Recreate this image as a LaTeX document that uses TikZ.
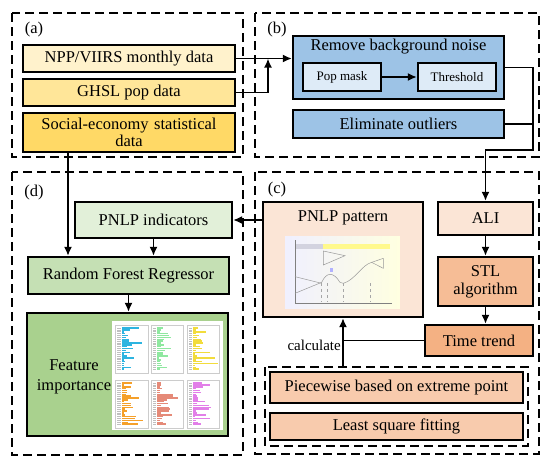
\documentclass[tikz,border=0pt]{standalone}
\usepackage{fontspec}
\setmainfont{Liberation Serif}
\usetikzlibrary{positioning, arrows.meta, calc}

\definecolor{nppfill}{HTML}{FFF2CC}
\definecolor{ghslfill}{HTML}{FFE699}
\definecolor{socfill}{HTML}{FFD966}
\definecolor{noisefill}{HTML}{9DC3E6}
\definecolor{maskfill}{HTML}{DEEBF7}
\definecolor{peachfill}{HTML}{FBE5D6}
\definecolor{orangefill}{HTML}{F4B183}
\definecolor{fitfill}{HTML}{F8CBAD}
\definecolor{indfill}{HTML}{E2F0D9}
\definecolor{rffill}{HTML}{C5E0B4}
\definecolor{fifill}{HTML}{A9D18E}
\definecolor{barcyan}{HTML}{2DB4E0}
\definecolor{bargreen}{HTML}{8FE8A0}
\definecolor{baryellow}{HTML}{F2DC3C}
\definecolor{barorange}{HTML}{F5A02A}
\definecolor{barred}{HTML}{E58A78}
\definecolor{barviolet}{HTML}{E27FE8}

\begin{document}
\begin{tikzpicture}[
  x=1pt, y=-1pt,
  font=\fontsize{16.5}{19}\selectfont,
  >={Latex[length=9pt,width=8pt]},
  box/.style={draw, line width=2.2pt, align=center, inner sep=1pt},
  small/.style={font=\fontsize{13}{15}\selectfont},
  panel/.style={draw, line width=2pt, dash pattern=on 9pt off 5pt},
  link/.style={->, line width=1.8pt},
  wire/.style={line width=1.8pt}
]
  \useasboundingbox (0,0) rectangle (550,467);

  % dashed panels
  \draw[panel] (12,13) rectangle (243,157);
  \draw[panel] (255,13) rectangle (539,157);
  \draw[panel] (12,172) rectangle (243,455);
  \draw[panel] (255,172) rectangle (539,454);
  \draw[panel] (265,367) rectangle (528,446);

  \node (taga) at (34,30) {(a)};
  \node (tagb) at (277,30) {(b)};
  \node (tagc) at (277,190) {(c)};
  \node (tagd) at (34,193) {(d)};

  % (a) input data
  \node[box, fill=nppfill, minimum width=212pt, minimum height=27pt] (npp) at (129,58.5) {NPP/VIIRS monthly data};
  \node[box, fill=ghslfill, minimum width=212pt, minimum height=27pt] (ghsl) at (129,92.5) {GHSL pop data};
  \node[box, fill=socfill, minimum width=212pt, minimum height=39pt, text width=205pt, font=\fontsize{16.5}{17}\selectfont] (social) at (129,132.5) {Social-economy statistical\\data};

  % (b) preprocessing
  \node[box, fill=noisefill, minimum width=211pt, minimum height=63pt] (noise) at (398.5,67.5) {};
  \node[anchor=north, inner sep=0pt] (noisetitle) at ([yshift=-4pt]noise.north) {Remove background noise};
  \node[box, small, fill=maskfill, minimum width=78pt, minimum height=28pt] (mask) at (342,77) {Pop mask};
  \node[box, small, fill=maskfill, minimum width=78pt, minimum height=28pt] (thresh) at (457,77) {Threshold};
  \node[box, fill=noisefill, minimum width=211pt, minimum height=28pt] (outlier) at (398.5,124) {Eliminate outliers};

  \draw[link] (mask) -- (thresh);
  \coordinate (join) at (268,58.5);
  \draw[link] (npp.east) -- (npp.east -| noise.west);
  \draw[link] (ghsl.east) -| (join);

  % (c) trend analysis
  \node[box, fill=peachfill, minimum width=95pt, minimum height=33pt] (ali) at (485.5,218.5) {ALI};
  \node[box, fill=orangefill!85, minimum width=95pt, minimum height=49pt, font=\fontsize{16.5}{18}\selectfont] (stl) at (485.5,281.5) {STL\\algorithm};
  \node[box, fill=orangefill, minimum width=108pt, minimum height=31pt] (trend) at (479,340.5) {Time trend};
  \node[box, fill=fitfill, minimum width=253pt, minimum height=31pt] (piece) at (396.5,387.5) {Piecewise based on extreme point};
  \node[box, fill=fitfill, minimum width=253pt, minimum height=27pt] (lsq) at (396.5,426.5) {Least square fitting};
  \node[box, fill=peachfill, minimum width=160pt, minimum height=115pt] (pattern) at (343,259.5) {};
  \node[anchor=north, inner sep=0pt] (patterntitle) at ([yshift=-10pt]pattern.north) {PNLP pattern};

  % sketch of the pattern plot
  \begin{scope}[shift={(280,225)}, scale=1/3]
    \shade[left color=blue!6, right color=yellow!12] (15,35) rectangle (360,250);
    \fill[blue!15!gray!30] (45,58) rectangle (130,72);
    \fill[yellow!45] (130,58) rectangle (330,72);
    \draw[gray, line width=0.5pt] (45,45) -- (45,235) -- (335,235);
    \draw[gray!80, line width=0.5pt] (45,155) -- (125,175);
    \draw[gray!80, line width=0.5pt] (45,205) -- (125,172) .. controls (140,140) and (160,140) .. (180,172)
      -- (190,175) .. controls (225,165) and (245,120) .. (275,112) -- (310,100);
    \draw[gray!80, line width=0.5pt] (275,112) -- (310,130) -- (310,100);
    \draw[gray!80, line width=0.5pt] (130,78) -- (195,92) -- (130,120) -- cycle;
    \fill[blue!30] (150,128) rectangle (160,140);
    \foreach \vx in {125,142,190,270}
      \draw[gray!70, line width=0.4pt, dashed] (\vx,175) -- (\vx,232);
  \end{scope}

  \draw[link] (ali) -- (stl);
  \draw[link] (stl.south) -- (stl.south |- trend.north);

  % noise and outliers to ALI
  \coordinate (bend) at (533,150);
  \draw[link] (noise.east) -| (bend) -| (ali.north);
  \draw[wire] (outlier.east) -- (outlier.east -| bend);

  % calculate pattern from fitting
  \coordinate (fitout) at (343,367);
  \draw[link] (fitout) -- (pattern.south);
  \draw[wire] (trend.west) -- (trend.west -| fitout);
  \node[left, inner sep=1pt, font=\fontsize{15}{17}\selectfont] (calclbl) at (342,345) {calculate};

  % (d) feature importance
  \node[box, fill=indfill, minimum width=157pt, minimum height=36pt] (ind) at (153.5,220) {PNLP indicators};
  \node[box, fill=rffill, minimum width=201pt, minimum height=37pt] (rf) at (128.5,275.5) {Random Forest Regressor};
  \node[box, fill=fifill, minimum width=201pt, minimum height=123pt] (fi) at (127.5,374.5) {};
  \node[align=center, font=\fontsize{16.5}{20}\selectfont] (fitext) at (74,377) {Feature\\importance};

  % sketch of the importance charts
  \begin{scope}[shift={(110,318)}, scale=1/3]
    \fill[white] (5,10) rectangle (340,335);
    \pgfmathsetseed{11}
    \foreach \cx/\cy/\col in {15/20/barcyan, 122/20/bargreen, 230/20/baryellow,
                              15/185/barorange, 122/185/barred, 230/185/barviolet} {
      \draw[gray!40, line width=0.3pt] (\cx,\cy) rectangle ++(98,145);
      \foreach \k in {0,...,22} {
        \pgfmathsetmacro\len{6+rnd*rnd*72}
        \fill[\col] (\cx+20,\cy+8+\k*5.6) rectangle ++(\len,4.4);
        \fill[gray!50] (\cx+6,\cy+9+\k*5.6) rectangle ++(11,1.5);
      }
    }
  \end{scope}

  \draw[link] (pattern.west |- ind.east) -- (ind.east);
  \draw[link] ([xshift=-61pt]social.south) -- ([xshift=-61pt]social.south |- rf.north);
  \draw[link] (ind.south) -- (ind.south |- rf.north);
  \draw[link] (rf.south) -- (rf.south |- fi.north);
\end{tikzpicture}
\end{document}
